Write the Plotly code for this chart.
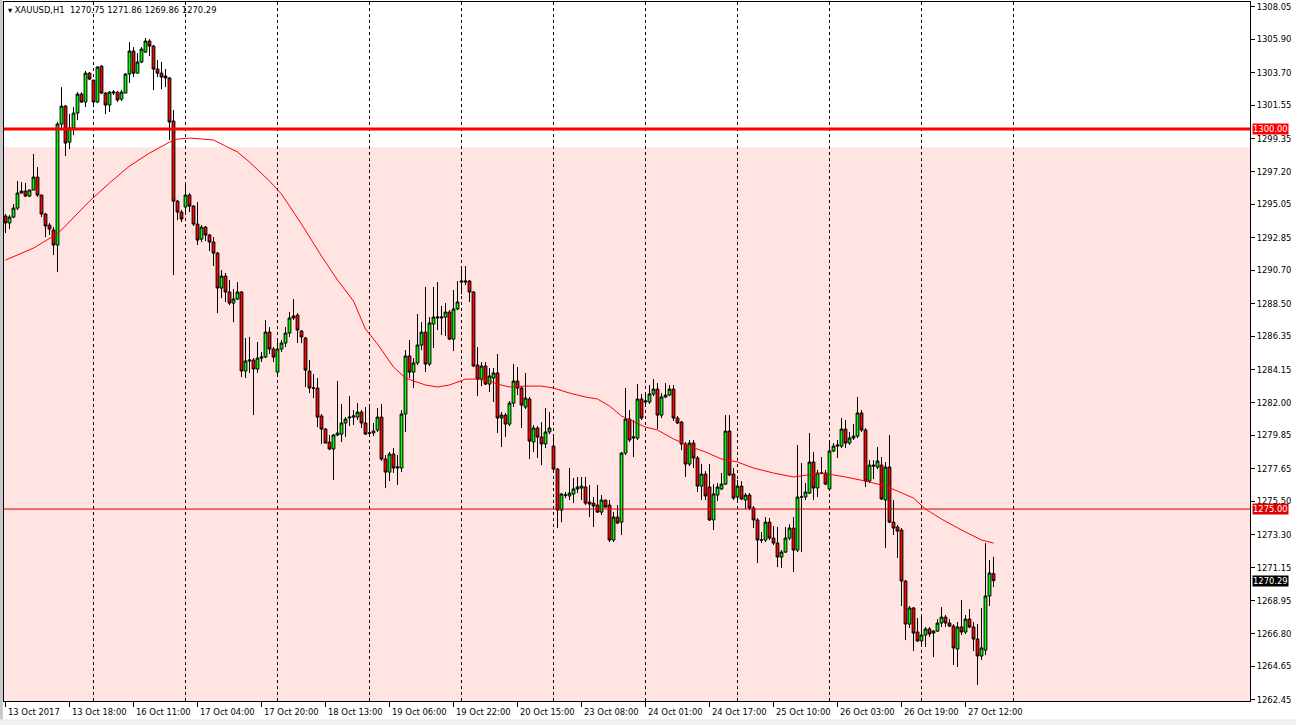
import plotly.graph_objects as go

# ---------------- data ----------------
opens = [
1294.28, 1293.82, 1294.21, 1294.80, 1295.79, 1295.92, 1295.59, 1295.99, 1296.84, 1295.66,
1294.41, 1293.68, 1293.36, 1292.37, 1300.33, 1301.51, 1299.14, 1300.07, 1301.05, 1302.30,
1301.78, 1303.68, 1303.22, 1301.78, 1304.14, 1302.37, 1301.58, 1302.37, 1302.43, 1301.97,
1302.37, 1303.62, 1305.13, 1303.68, 1304.41, 1305.07, 1305.79, 1305.46, 1303.95, 1303.68,
1303.49, 1303.36, 1300.53, 1295.26, 1294.54, 1294.87, 1295.66, 1294.93, 1293.75, 1292.76,
1293.55, 1293.03, 1292.57, 1291.84, 1289.54, 1290.33, 1289.28, 1288.55, 1288.82, 1289.28,
1284.08, 1284.74, 1284.80, 1284.21, 1284.93, 1285.00, 1286.64, 1285.53, 1284.01, 1285.53,
1285.92, 1286.58, 1287.70, 1287.76, 1286.71, 1286.25, 1284.08, 1282.96, 1282.96, 1281.12,
1280.26, 1279.41, 1278.95, 1279.87, 1279.93, 1280.66, 1280.99, 1281.05, 1281.05, 1281.38,
1280.66, 1280.00, 1280.00, 1280.20, 1281.05, 1278.29, 1277.43, 1278.62, 1277.70, 1277.70,
1281.25, 1285.07, 1284.01, 1284.61, 1285.79, 1286.64, 1284.54, 1287.17, 1287.57, 1287.57,
1287.63, 1287.96, 1286.18, 1288.16, 1289.93, 1289.93, 1290.00, 1289.28, 1284.47, 1283.55,
1284.41, 1283.22, 1283.62, 1283.95, 1280.99, 1281.18, 1280.59, 1281.97, 1283.42, 1282.96,
1281.71, 1282.24, 1279.41, 1280.33, 1279.74, 1279.28, 1280.07, 1279.14, 1277.63, 1274.93,
1275.92, 1275.86, 1275.99, 1276.32, 1276.38, 1276.45, 1275.46, 1275.39, 1275.26, 1274.80,
1275.59, 1275.26, 1272.96, 1274.47, 1274.14, 1278.68, 1280.92, 1279.67, 1279.67, 1282.24,
1282.04, 1282.04, 1282.57, 1282.89, 1281.18, 1282.37, 1282.50, 1282.89, 1280.99, 1280.72,
1279.28, 1277.96, 1279.34, 1278.36, 1276.51, 1277.30, 1276.45, 1274.28, 1275.92, 1276.32,
1276.64, 1280.13, 1277.30, 1275.79, 1276.51, 1275.59, 1275.92, 1275.07, 1274.28, 1272.96,
1272.96, 1274.14, 1273.09, 1272.76, 1271.84, 1272.17, 1273.09, 1273.75, 1272.30, 1275.79,
1275.79, 1276.05, 1278.09, 1276.38, 1277.37, 1277.37, 1276.32, 1278.82, 1279.14, 1279.14,
1280.26, 1279.34, 1279.67, 1279.80, 1281.32, 1280.20, 1276.84, 1277.89, 1277.76, 1277.89,
1275.59, 1277.76, 1274.14, 1273.82, 1273.62, 1270.26, 1267.43, 1268.49, 1266.91, 1266.32,
1266.71, 1267.11, 1266.84, 1266.97, 1267.50, 1267.89, 1267.50, 1267.30, 1265.79, 1267.24,
1266.91, 1267.76, 1267.24, 1266.45, 1265.33, 1265.72, 1269.28, 1270.75]

highs = [
1294.41, 1294.34, 1295.07, 1296.58, 1296.51, 1296.45, 1295.99, 1298.36, 1297.50, 1295.66,
1294.47, 1293.82, 1293.55, 1300.46, 1302.76, 1301.58, 1300.99, 1301.45, 1302.43, 1302.43,
1303.82, 1303.75, 1303.22, 1304.14, 1304.20, 1302.43, 1302.50, 1302.57, 1302.50, 1302.57,
1303.68, 1305.72, 1305.39, 1305.00, 1305.39, 1305.99, 1305.92, 1305.53, 1304.54, 1304.41,
1303.95, 1303.42, 1301.25, 1295.33, 1294.67, 1296.32, 1295.79, 1295.00, 1295.20, 1293.68,
1293.62, 1293.09, 1292.89, 1291.91, 1290.72, 1290.53, 1290.07, 1289.47, 1289.93, 1289.34,
1286.25, 1286.32, 1284.93, 1285.99, 1285.33, 1287.43, 1286.97, 1285.66, 1286.12, 1286.12,
1286.97, 1287.96, 1288.82, 1287.89, 1286.78, 1286.32, 1284.80, 1283.88, 1283.62, 1281.25,
1280.33, 1279.87, 1279.93, 1283.42, 1281.91, 1281.05, 1282.43, 1281.51, 1281.97, 1281.51,
1281.71, 1281.71, 1280.66, 1281.64, 1281.91, 1278.55, 1278.75, 1279.01, 1278.55, 1281.51,
1285.46, 1286.12, 1284.93, 1287.83, 1287.30, 1289.61, 1287.63, 1289.61, 1289.93, 1288.36,
1288.55, 1288.09, 1289.41, 1290.00, 1290.86, 1290.99, 1290.07, 1289.34, 1285.66, 1284.67,
1284.67, 1284.28, 1284.28, 1285.20, 1281.38, 1281.32, 1282.11, 1284.54, 1284.34, 1283.09,
1283.95, 1282.37, 1280.53, 1280.46, 1280.72, 1281.64, 1281.38, 1279.74, 1277.70, 1276.05,
1276.12, 1277.70, 1277.04, 1277.11, 1277.11, 1277.11, 1276.58, 1275.79, 1276.58, 1275.92,
1275.59, 1275.59, 1274.80, 1275.26, 1278.75, 1282.96, 1281.51, 1280.86, 1283.22, 1282.57,
1282.50, 1283.16, 1283.55, 1283.29, 1282.63, 1283.29, 1283.16, 1283.16, 1281.12, 1280.79,
1279.41, 1279.54, 1279.54, 1278.49, 1277.96, 1277.50, 1277.96, 1276.64, 1276.71, 1277.37,
1281.18, 1281.18, 1277.70, 1276.91, 1276.84, 1276.05, 1276.05, 1275.20, 1274.41, 1273.49,
1274.47, 1274.41, 1273.88, 1273.82, 1272.30, 1273.82, 1274.01, 1274.47, 1279.21, 1278.03,
1276.71, 1280.00, 1278.75, 1277.57, 1278.42, 1277.57, 1279.34, 1279.34, 1279.54, 1280.99,
1280.86, 1280.07, 1280.59, 1282.37, 1281.51, 1280.33, 1278.22, 1278.22, 1279.08, 1278.42,
1278.09, 1279.87, 1275.59, 1273.95, 1273.75, 1270.33, 1268.62, 1268.55, 1267.83, 1267.89,
1267.24, 1267.24, 1267.04, 1267.76, 1268.55, 1268.03, 1267.76, 1267.43, 1267.57, 1269.01,
1268.03, 1268.42, 1267.57, 1267.43, 1268.49, 1272.76, 1271.64, 1271.86]

lows = [
1293.16, 1293.42, 1294.14, 1294.67, 1295.79, 1295.53, 1295.53, 1295.99, 1295.53, 1294.21,
1292.89, 1293.03, 1291.71, 1290.59, 1299.93, 1298.22, 1298.68, 1299.61, 1300.59, 1301.71,
1301.45, 1303.22, 1301.45, 1301.71, 1302.30, 1300.99, 1301.12, 1302.24, 1301.78, 1301.84,
1302.37, 1303.03, 1303.42, 1303.68, 1304.34, 1305.00, 1304.80, 1302.57, 1303.42, 1302.63,
1302.76, 1299.28, 1290.39, 1294.01, 1293.88, 1294.47, 1294.54, 1293.62, 1292.37, 1292.57,
1292.63, 1291.97, 1290.99, 1287.89, 1288.88, 1288.62, 1288.42, 1287.30, 1288.75, 1283.68,
1283.62, 1283.95, 1281.18, 1283.95, 1284.67, 1284.93, 1285.20, 1284.67, 1283.82, 1285.33,
1285.66, 1286.32, 1287.43, 1285.92, 1285.92, 1283.03, 1282.63, 1282.30, 1280.39, 1279.28,
1279.34, 1278.88, 1276.91, 1279.80, 1279.41, 1279.74, 1280.46, 1280.53, 1280.86, 1280.33,
1279.87, 1279.80, 1279.80, 1280.07, 1278.16, 1276.38, 1276.84, 1277.37, 1276.58, 1277.43,
1280.07, 1283.62, 1282.96, 1284.47, 1285.46, 1284.01, 1284.41, 1285.59, 1286.78, 1286.45,
1286.38, 1286.12, 1285.39, 1288.09, 1289.14, 1289.74, 1288.62, 1284.34, 1282.43, 1283.09,
1283.16, 1282.70, 1282.04, 1280.00, 1279.08, 1279.74, 1280.46, 1281.71, 1282.50, 1280.33,
1281.58, 1278.29, 1278.75, 1278.36, 1277.89, 1279.01, 1279.93, 1277.57, 1273.75, 1274.14,
1275.72, 1275.59, 1275.39, 1276.05, 1275.59, 1275.26, 1274.47, 1273.82, 1274.74, 1274.61,
1275.07, 1272.83, 1272.83, 1274.01, 1273.29, 1278.55, 1279.41, 1278.42, 1279.54, 1280.86,
1281.84, 1281.91, 1282.43, 1280.26, 1280.99, 1282.30, 1282.43, 1280.79, 1280.59, 1278.88,
1277.11, 1277.83, 1277.70, 1276.12, 1275.59, 1275.59, 1274.21, 1273.62, 1275.53, 1276.25,
1276.58, 1277.17, 1275.59, 1275.59, 1275.59, 1275.00, 1274.93, 1273.75, 1271.45, 1272.76,
1272.83, 1272.96, 1272.63, 1271.18, 1271.12, 1272.11, 1272.96, 1270.86, 1272.17, 1272.17,
1275.59, 1275.99, 1275.59, 1275.79, 1277.30, 1276.58, 1276.25, 1278.75, 1278.36, 1279.01,
1279.01, 1279.21, 1279.54, 1279.67, 1280.07, 1276.45, 1276.71, 1276.97, 1277.63, 1275.59,
1272.43, 1274.08, 1273.29, 1271.78, 1268.62, 1266.38, 1267.17, 1265.66, 1266.25, 1266.05,
1265.92, 1266.58, 1265.26, 1266.91, 1267.24, 1267.24, 1267.24, 1264.74, 1264.61, 1266.71,
1266.78, 1267.17, 1265.66, 1263.42, 1265.07, 1265.39, 1268.62, 1269.86]

closes = [
1293.82, 1294.21, 1294.80, 1295.79, 1295.92, 1295.59, 1295.99, 1296.84, 1295.66, 1294.41,
1293.62, 1293.42, 1292.37, 1300.33, 1301.51, 1299.08, 1300.07, 1301.05, 1302.30, 1301.78,
1303.68, 1303.29, 1301.78, 1304.08, 1302.37, 1301.58, 1302.43, 1302.43, 1301.91, 1302.43,
1303.62, 1305.13, 1303.68, 1304.41, 1305.26, 1305.79, 1305.46, 1303.95, 1303.68, 1303.42,
1303.36, 1300.46, 1295.26, 1294.54, 1294.08, 1295.66, 1294.93, 1293.75, 1292.70, 1293.55,
1293.03, 1292.57, 1291.84, 1289.54, 1290.33, 1289.28, 1288.55, 1288.82, 1289.28, 1284.08,
1284.74, 1284.80, 1284.21, 1284.93, 1285.00, 1286.64, 1285.53, 1285.00, 1285.53, 1285.92,
1286.58, 1287.57, 1287.57, 1286.78, 1286.32, 1284.14, 1282.96, 1282.96, 1281.05, 1280.26,
1279.34, 1278.95, 1279.87, 1280.00, 1280.66, 1280.92, 1281.05, 1281.12, 1281.38, 1280.66,
1279.93, 1280.00, 1280.13, 1281.05, 1278.29, 1277.43, 1278.62, 1277.70, 1277.76, 1281.25,
1285.07, 1284.01, 1284.61, 1285.79, 1286.64, 1284.54, 1287.24, 1287.63, 1287.63, 1287.63,
1287.96, 1286.18, 1288.16, 1288.62, 1290.00, 1290.00, 1289.28, 1284.41, 1283.55, 1284.41,
1283.22, 1283.75, 1283.95, 1280.99, 1281.18, 1280.59, 1281.97, 1283.42, 1282.96, 1281.84,
1282.30, 1279.47, 1280.33, 1279.74, 1279.28, 1280.07, 1280.33, 1277.63, 1274.93, 1275.99,
1275.92, 1276.05, 1276.32, 1276.45, 1276.51, 1275.39, 1275.33, 1275.20, 1274.80, 1275.59,
1275.13, 1272.96, 1274.47, 1274.08, 1278.68, 1280.92, 1279.54, 1279.74, 1282.24, 1280.99,
1282.11, 1282.57, 1282.89, 1281.18, 1282.37, 1282.50, 1282.89, 1280.99, 1280.66, 1279.28,
1277.96, 1279.34, 1278.36, 1276.51, 1277.30, 1275.86, 1274.28, 1275.99, 1276.45, 1276.64,
1280.13, 1277.24, 1275.72, 1276.51, 1275.66, 1275.92, 1275.07, 1274.28, 1272.96, 1272.96,
1274.14, 1273.09, 1272.76, 1271.84, 1272.17, 1273.09, 1273.75, 1272.30, 1275.79, 1275.79,
1276.12, 1278.09, 1276.38, 1277.37, 1277.37, 1276.64, 1278.82, 1279.14, 1279.21, 1280.26,
1279.34, 1279.67, 1279.80, 1281.32, 1280.20, 1276.84, 1277.89, 1277.83, 1278.16, 1275.66,
1277.76, 1274.14, 1273.75, 1273.55, 1270.26, 1267.43, 1268.49, 1266.84, 1266.32, 1266.71,
1267.11, 1266.78, 1266.97, 1267.50, 1267.89, 1267.50, 1267.30, 1265.86, 1267.24, 1266.91,
1267.76, 1267.24, 1266.45, 1265.33, 1265.86, 1269.28, 1270.79, 1270.29]

bar_index = list(range(len(closes)))

# moving average read at selected bars
ma_bars = [0, 7, 12, 14, 21, 26, 31, 36, 41, 43, 46, 49, 52, 55, 58, 61, 64, 66, 69, 74,
           79, 83, 87, 90, 93, 97, 100, 105, 108, 111, 115, 118, 121, 123, 126, 130, 134, 137,
           141, 145, 148, 151, 154, 156, 160, 163, 167, 171, 175, 179, 183, 187, 192, 197, 201,
           204, 207, 210, 215, 220, 223, 227, 230, 234, 239, 244, 247]
ma_vals = [1291.38, 1292.17, 1292.96, 1293.36, 1295.26, 1296.45, 1297.57, 1298.42, 1299.14,
           1299.34, 1299.41, 1299.34, 1299.28, 1298.88, 1298.49, 1297.83, 1297.11, 1296.58,
           1295.72, 1293.75, 1291.64, 1290.07, 1288.68, 1286.84, 1285.86, 1284.34, 1283.62,
           1283.16, 1283.03, 1283.16, 1283.55, 1283.55, 1283.42, 1283.22, 1283.03, 1283.09,
           1283.09, 1282.96, 1282.63, 1282.37, 1282.24, 1281.78, 1281.12, 1280.86, 1280.39,
           1280.20, 1279.61, 1279.14, 1278.75, 1278.29, 1278.09, 1277.70, 1277.37, 1277.11,
           1277.24, 1277.37, 1277.24, 1277.11, 1276.84, 1276.51, 1276.18, 1275.72, 1275.00,
           1274.34, 1273.62, 1272.96, 1272.76]

day_separator_bars = [22, 45, 68, 91, 114, 137, 160, 183, 206, 229, 252]

x_tick_bars = [0, 16, 32, 48, 64, 80, 96, 112, 128, 144, 160, 176, 192, 208, 224, 240]
x_tick_labels = ["13 Oct 2017", "13 Oct 18:00", "16 Oct 11:00", "17 Oct 04:00", "17 Oct 20:00",
                 "18 Oct 13:00", "19 Oct 06:00", "19 Oct 22:00", "20 Oct 15:00", "23 Oct 08:00",
                 "24 Oct 01:00", "24 Oct 17:00", "25 Oct 10:00", "26 Oct 03:00", "26 Oct 19:00",
                 "27 Oct 12:00"]

y_tick_labels = ["1308.05", "1305.90", "1303.70", "1301.55", "1299.35", "1297.20", "1295.05",
                 "1292.85", "1290.70", "1288.50", "1286.35", "1284.15", "1282.00", "1279.85",
                 "1277.65", "1275.50", "1273.30", "1271.15", "1268.95", "1266.80", "1264.65",
                 "1262.45"]
y_tick_vals = [float(v) for v in y_tick_labels]

level_major = 1300.00
level_minor = 1275.00
zone_top = 1298.80
zone_bottom = 1255.00

title_text = "\u25be XAUUSD,H1  1270.75 1271.86 1269.86 1270.29"

FONT = "DejaVu Sans"
FS = 8.4

# ---------------- figure ----------------
fig = go.Figure()

fig.add_trace(go.Candlestick(
    x=bar_index, open=opens, high=highs, low=lows, close=closes,
    increasing=dict(line=dict(color="black", width=1), fillcolor="#00FF00"),
    decreasing=dict(line=dict(color="black", width=1), fillcolor="#FF0000"),
    whiskerwidth=0, showlegend=False, hoverinfo="skip"))

fig.add_trace(go.Scatter(x=ma_bars, y=ma_vals, mode="lines",
                         line=dict(color="#FF0000", width=1), showlegend=False,
                         hoverinfo="skip"))

shapes = []
# window frame strips (left edge and bottom edge of the terminal window)
shapes.append(dict(type="rect", xref="paper", yref="paper", x0=-0.0033, x1=-0.0009, y0=-0.04, y1=1.01,
                   fillcolor="#C8C8C8", line=dict(width=0), layer="below"))
shapes.append(dict(type="rect", xref="paper", yref="paper", x0=-0.004, x1=1.04, y0=-0.04, y1=-0.0262,
                   fillcolor="#F0F0F0", line=dict(width=0), layer="below"))
# pink zone
shapes.append(dict(type="rect", xref="paper", yref="y", x0=0, x1=1, y0=zone_bottom, y1=zone_top,
                   fillcolor="#FFE4E1", line=dict(width=0), layer="below"))
# day separators
for b in day_separator_bars:
    shapes.append(dict(type="line", xref="x", yref="paper", x0=b, x1=b, y0=0, y1=1,
                       line=dict(color="black", width=1, dash="3px,3px"), layer="below"))
# horizontal levels
shapes.append(dict(type="line", xref="paper", yref="y", x0=0, x1=1, y0=level_major, y1=level_major,
                   line=dict(color="#FF0000", width=3), layer="above"))
shapes.append(dict(type="line", xref="paper", yref="y", x0=0, x1=1, y0=level_minor, y1=level_minor,
                   line=dict(color="#D00000", width=1), layer="above"))

annotations = []
annotations.append(dict(text=title_text, xref="paper", yref="paper", x=0, y=1,
                        xanchor="left", yanchor="top", xshift=2, yshift=-1, showarrow=False,
                        font=dict(family=FONT, size=FS, color="black")))
for b, t in zip(x_tick_bars, x_tick_labels):
    annotations.append(dict(text=t, xref="x", yref="paper", x=b, y=0, xanchor="left",
                            yanchor="top", yshift=-4, xshift=0, showarrow=False,
                            font=dict(family=FONT, size=FS, color="black")))
last_close = closes[-1]
for val, bg in [(level_major, "#FF0000"), (level_minor, "#E00000"), (last_close, "#000000")]:
    annotations.append(dict(text=f"{val:.2f}", xref="paper", yref="y", x=1, y=val,
                            xanchor="left", yanchor="middle", xshift=2, showarrow=False,
                            bgcolor=bg, borderpad=0,
                            font=dict(family=FONT, size=FS, color="white")))

fig.update_layout(
    width=1296, height=725,
    margin=dict(l=4, r=46, t=2, b=24),
    paper_bgcolor="white", plot_bgcolor="white",
    showlegend=False,
    boxgap=0.3, boxgroupgap=0.0,
    shapes=shapes, annotations=annotations,
    xaxis=dict(range=[-0.375, 311.125], showgrid=False, zeroline=False, showline=True,
               linecolor="black", linewidth=1, mirror=True, ticks="outside", ticklen=5,
               tickcolor="black", tickvals=x_tick_bars, showticklabels=False,
               rangeslider=dict(visible=False), fixedrange=True),
    yaxis=dict(range=[1262.37, 1308.36], side="right", showgrid=False, zeroline=False,
               showline=True, linecolor="black", linewidth=1, mirror=True, ticks="outside",
               ticklen=4, tickcolor="black", tickvals=y_tick_vals, ticktext=y_tick_labels,
               tickfont=dict(family=FONT, size=FS, color="black"), fixedrange=True),
)

fig.write_html("out.html", config={"displayModeBar": False},
               post_script="document.body.style.margin='0px';document.body.style.padding='0px';"
                           "document.body.style.overflow='hidden';")
